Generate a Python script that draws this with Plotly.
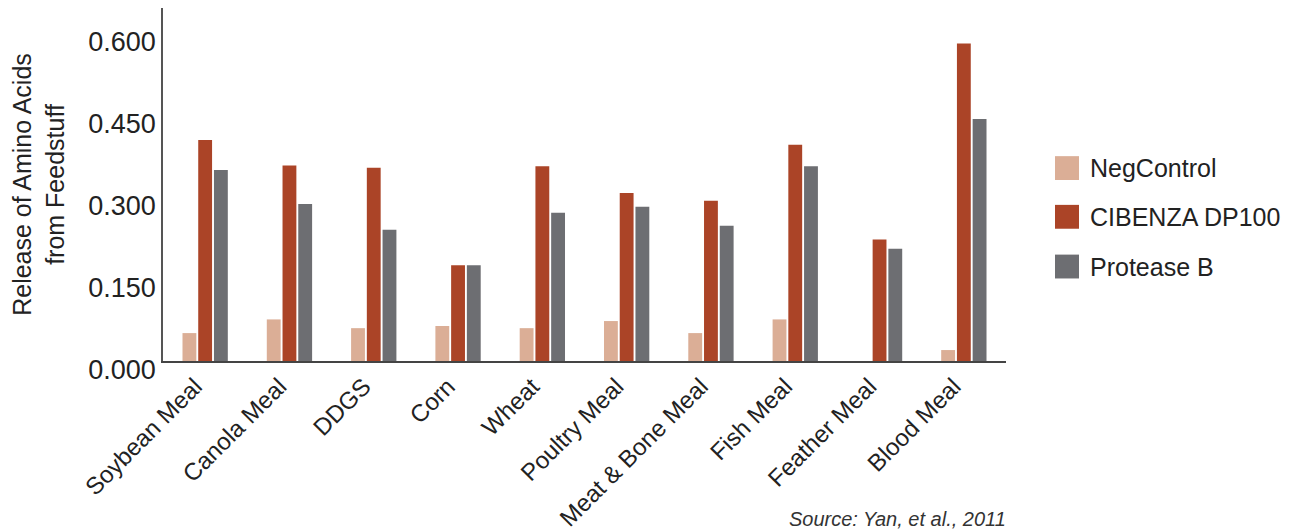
import plotly.graph_objects as go

categories = ["Soybean Meal", "Canola Meal", "DDGS", "Corn", "Wheat",
              "Poultry Meal", "Meat & Bone Meal", "Fish Meal", "Feather Meal", "Blood Meal"]
neg_control = [0.051, 0.076, 0.060, 0.064, 0.060, 0.073, 0.051, 0.076, 0.0, 0.020]
cibenza = [0.404, 0.357, 0.353, 0.175, 0.356, 0.307, 0.293, 0.395, 0.222, 0.580]
protease_b = [0.349, 0.287, 0.240, 0.175, 0.271, 0.282, 0.247, 0.356, 0.205, 0.442]
tick_vals = [0.0, 0.15, 0.30, 0.45, 0.60]

series_names = ["NegControl", "CIBENZA DP100", "Protease B"]
series_values = [neg_control, cibenza, protease_b]
series_colors = ["#dbae96", "#ab4427", "#6d6e72"]

FONT = "Liberation Sans, Arial, sans-serif"
fig = go.Figure()
for name, vals, col in zip(series_names, series_values, series_colors):
    fig.add_trace(go.Bar(x=categories, y=vals, name=name, marker_color=col,
                         marker_line_width=0, showlegend=False))

# custom legend (large swatches) in paper coordinates
shapes = []
annotations = []
legend_y = [0.5465, 0.4085, 0.2676]
half = 0.0338
for name, col, yc in zip(series_names, series_colors, legend_y):
    shapes.append(dict(type="rect", xref="paper", yref="paper",
                       x0=1.0581, x1=1.0866, y0=yc - half, y1=yc + half,
                       fillcolor=col, line_width=0))
    annotations.append(dict(text=name, xref="paper", yref="paper", x=1.0973, y=yc,
                            xanchor="left", yanchor="middle", showarrow=False,
                            font=dict(size=25, color="#222222", family=FONT)))
annotations.append(dict(text="<i>Source: Yan, et al., 2011</i>", xref="paper", yref="paper",
                        x=0.74, y=-0.41, xanchor="left", yanchor="top", showarrow=False,
                        font=dict(size=20, color="#333333", family=FONT)))

fig.update_layout(
    width=1291, height=523,
    barmode="group", bargap=0.44, bargroupgap=0.12,
    plot_bgcolor="white", paper_bgcolor="white",
    margin=dict(l=155, r=293, t=0, b=168),
    font=dict(family=FONT, color="#222222"),
    showlegend=False,
    shapes=shapes,
    annotations=annotations,
)
fig.update_xaxes(showline=True, linecolor="#444444", linewidth=2, ticks="",
                 tickangle=-45, tickfont=dict(size=24, color="#222222"),
                 ticklabelshift=-10, ticklabelstandoff=0,
                 showgrid=False)
fig.update_yaxes(range=[0, 0.645], tickvals=tick_vals, tickformat=".3f",
                 showline=True, linecolor="#555555", linewidth=1.5, ticks="",
                 showgrid=False, zeroline=False, ticklabelshift=9,
                 tickfont=dict(size=27, color="#222222"),
                 title=dict(text="Release of Amino Acids<br>from Feedstuff",
                            font=dict(size=25, color="#222222"), standoff=22))
fig.write_html("out.html")
